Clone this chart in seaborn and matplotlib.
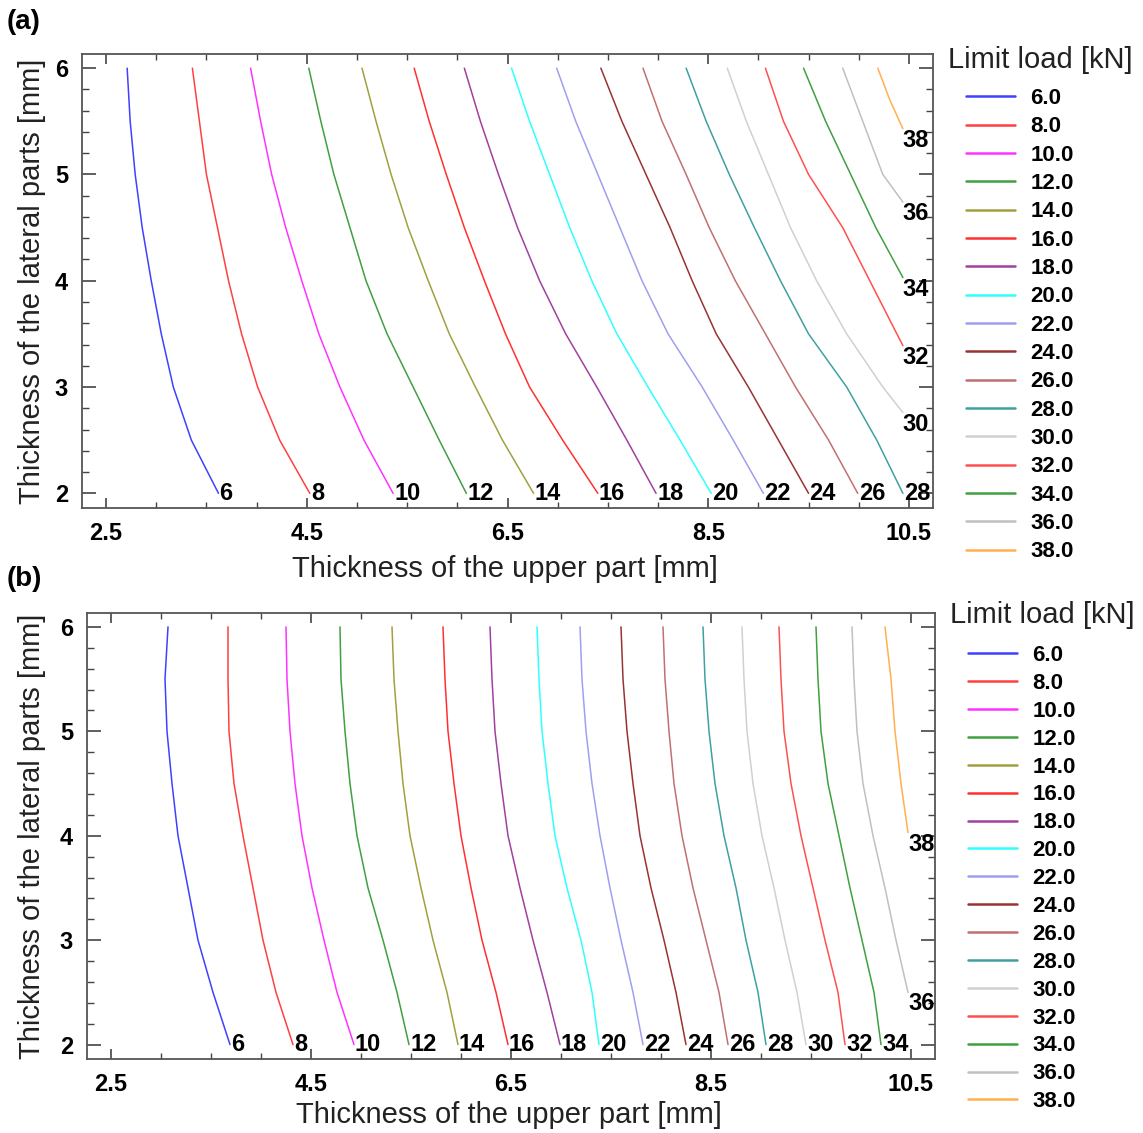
import numpy as np
import pandas as pd
import matplotlib
matplotlib.use("Agg")
import matplotlib.pyplot as plt
import seaborn as sns
from matplotlib.ticker import FixedLocator, MultipleLocator

# ---------------- data ----------------
LEVELS = [6, 8, 10, 12, 14, 16, 18, 20, 22, 24, 26, 28, 30, 32, 34, 36, 38]
LEVEL_LABELS = ["6.0", "8.0", "10.0", "12.0", "14.0", "16.0", "18.0", "20.0", "22.0",
                "24.0", "26.0", "28.0", "30.0", "32.0", "34.0", "36.0", "38.0"]
COLORS = ["#4040ff", "#ff4040", "#ff33ff", "#40a040", "#a0a040", "#ff3030", "#a040a0",
          "#30ffff", "#9f9fef", "#993333", "#c07070", "#40a0a0", "#d0d0d0", "#ff5050",
          "#40a040", "#c0c0c0", "#ffb050"]

X_TICKS = [2.5, 4.5, 6.5, 8.5, 10.5]
X_TICK_LABELS = ["2.5", "4.5", "6.5", "8.5", "10.5"]
Y_TICKS = [2, 3, 4, 5, 6]
Y_TICK_LABELS = ["2", "3", "4", "5", "6"]

# y positions (lateral thickness) at which each contour was read
Y_GRID = [6.0, 5.5, 5.0, 4.5, 4.0, 3.5, 3.0, 2.5, 2.0]

# ---- panel (a): x (upper thickness) of each contour at Y_GRID ----
A06 = [2.71, 2.74, 2.79, 2.86, 2.95, 3.05, 3.17, 3.35, 3.62]
A08 = [3.36, 3.43, 3.50, 3.61, 3.72, 3.85, 4.01, 4.23, 4.53]
A10 = [3.94, 4.04, 4.15, 4.29, 4.45, 4.62, 4.83, 5.07, 5.36]
A12 = [4.52, 4.64, 4.77, 4.93, 5.09, 5.30, 5.56, 5.82, 6.09]
A14 = [5.05, 5.19, 5.34, 5.51, 5.71, 5.92, 6.18, 6.45, 6.76]
A16 = [5.57, 5.72, 5.89, 6.07, 6.27, 6.48, 6.72, 7.05, 7.40]
A18 = [6.07, 6.23, 6.41, 6.60, 6.82, 7.08, 7.39, 7.69, 7.98]
A20 = [6.54, 6.72, 6.92, 7.12, 7.34, 7.59, 7.90, 8.22, 8.53]
A22 = [6.99, 7.18, 7.40, 7.62, 7.84, 8.10, 8.44, 8.75, 9.05]
A24 = [7.43, 7.64, 7.88, 8.12, 8.34, 8.58, 8.90, 9.20, 9.50]
A26 = [7.85, 8.04, 8.28, 8.51, 8.77, 9.07, 9.37, 9.70, 9.99]
A28 = [8.28, 8.48, 8.71, 8.96, 9.22, 9.50, 9.88, 10.18, 10.44]
A30_X = [8.69, 8.88, 9.10, 9.32, 9.58, 9.88, 10.24, 10.44]
A30_Y = [6.0, 5.5, 5.0, 4.5, 4.0, 3.5, 3.0, 2.76]
A32_X = [9.07, 9.25, 9.50, 9.84, 10.11, 10.38, 10.44]
A32_Y = [6.0, 5.5, 5.0, 4.5, 4.0, 3.5, 3.39]
A34_X = [9.45, 9.67, 9.92, 10.17, 10.44]
A34_Y = [6.0, 5.5, 5.0, 4.5, 4.03]
A36_X = [9.84, 10.04, 10.24, 10.44]
A36_Y = [6.0, 5.5, 5.0, 4.74]
A38_X = [10.19, 10.31, 10.44]
A38_Y = [6.0, 5.7, 5.43]

# ---- panel (b) ----
B06 = [3.07, 3.04, 3.06, 3.11, 3.17, 3.27, 3.37, 3.52, 3.69]
B08 = [3.67, 3.67, 3.68, 3.73, 3.82, 3.92, 4.02, 4.15, 4.32]
B10 = [4.25, 4.26, 4.29, 4.34, 4.41, 4.51, 4.63, 4.76, 4.93]
B12 = [4.79, 4.80, 4.84, 4.89, 4.96, 5.07, 5.22, 5.36, 5.48]
B14 = [5.31, 5.33, 5.37, 5.42, 5.49, 5.60, 5.72, 5.86, 5.97]
B16 = [5.82, 5.84, 5.87, 5.93, 6.00, 6.10, 6.21, 6.35, 6.47]
B18 = [6.29, 6.31, 6.34, 6.40, 6.47, 6.59, 6.72, 6.86, 6.99]
B20 = [6.76, 6.78, 6.81, 6.87, 6.94, 7.06, 7.20, 7.31, 7.38]
B22 = [7.19, 7.21, 7.25, 7.31, 7.39, 7.49, 7.60, 7.72, 7.82]
B24 = [7.60, 7.62, 7.66, 7.72, 7.79, 7.90, 8.03, 8.15, 8.25]
B26 = [8.02, 8.04, 8.08, 8.13, 8.21, 8.32, 8.45, 8.58, 8.67]
B28 = [8.42, 8.44, 8.48, 8.54, 8.63, 8.75, 8.85, 8.97, 9.05]
B30 = [8.81, 8.83, 8.86, 8.92, 9.01, 9.13, 9.24, 9.36, 9.45]
B32 = [9.18, 9.20, 9.23, 9.30, 9.40, 9.52, 9.64, 9.77, 9.84]
B34 = [9.55, 9.57, 9.60, 9.67, 9.78, 9.89, 10.01, 10.13, 10.20]
B36_X = [9.91, 9.93, 9.96, 10.02, 10.12, 10.24, 10.35, 10.47]
B36_Y = [6.0, 5.5, 5.0, 4.5, 4.0, 3.5, 3.0, 2.5]
B38_X = [10.24, 10.30, 10.34, 10.40, 10.47]
B38_Y = [6.0, 5.5, 5.0, 4.5, 4.03]

PANEL_A_X = [A06, A08, A10, A12, A14, A16, A18, A20, A22, A24, A26, A28,
             A30_X, A32_X, A34_X, A36_X, A38_X]
PANEL_A_Y = [Y_GRID] * 12 + [A30_Y, A32_Y, A34_Y, A36_Y, A38_Y]
PANEL_B_X = [B06, B08, B10, B12, B14, B16, B18, B20, B22, B24, B26, B28,
             B30, B32, B34, B36_X, B38_X]
PANEL_B_Y = [Y_GRID] * 15 + [B36_Y, B38_Y]

# ---------------- style ----------------
sns.set_theme(style="ticks")
plt.rcParams["font.family"] = ["Liberation Sans", "DejaVu Sans"]
plt.rcParams["text.color"] = "black"
plt.rcParams["axes.labelcolor"] = "#222222"
plt.rcParams["xtick.labelcolor"] = "black"
plt.rcParams["ytick.labelcolor"] = "black"

W, H = 1143, 1133
fig = plt.figure(figsize=(W / 100, H / 100), dpi=100)


def frame(xs_list, ys_list):
    rows = []
    for lab, xs, ys in zip(LEVEL_LABELS, xs_list, ys_list):
        for i, (x, y) in enumerate(zip(xs, ys)):
            rows.append((lab, i, x, y))
    return pd.DataFrame(rows, columns=["level", "order", "x", "y"])


def px_axes(left, top, right, bottom):
    return fig.add_axes([left / W, 1 - bottom / H, (right - left) / W, (bottom - top) / H])


def draw_panel(ax, xs_list, ys_list, xlabel_y, ylabel_x, leg_x, leg_top, leg_space,
               title_xy, tag, tag_y):
    df = frame(xs_list, ys_list)
    sns.lineplot(data=df, x="x", y="y", hue="level", hue_order=LEVEL_LABELS,
                 palette=COLORS, sort=False, estimator=None, linewidth=1.1,
                 ax=ax, legend=True)
    ax.set_xlim(2.26, 10.74)
    ax.set_ylim(1.862, 6.133)
    ax.set_xticks(X_TICKS)
    ax.set_xticklabels(X_TICK_LABELS, fontweight="bold", fontsize=17)
    ax.set_yticks(Y_TICKS)
    ax.set_yticklabels(Y_TICK_LABELS, fontweight="bold", fontsize=17)
    ax.xaxis.set_minor_locator(MultipleLocator(0.5))
    ax.yaxis.set_minor_locator(MultipleLocator(0.2))
    ax.tick_params(which="both", direction="in", top=True, right=True,
                   color="#444444", pad=10)
    ax.tick_params(axis="x", which="major", length=7, width=1.2)
    ax.tick_params(axis="x", which="minor", length=4, width=1.0)
    ax.tick_params(axis="y", which="major", length=10, width=1.2)
    ax.tick_params(axis="y", which="minor", length=5, width=1.0)
    for s in ax.spines.values():
        s.set_color("#555555")
        s.set_linewidth(1.3)
    ax.set_xlabel("Thickness of the upper part [mm]", fontsize=21)
    ax.set_ylabel("Thickness of the lateral parts [mm]", fontsize=21)
    ax.xaxis.set_label_coords(0.497, xlabel_y)
    ax.yaxis.set_label_coords(ylabel_x, 0.5)

    # contour labels at the end of each line
    for lev, xs, ys in zip(LEVELS, xs_list, ys_list):
        xe, ye = xs[-1], ys[-1]
        if abs(ye - 2.0) < 1e-9:
            ax.text(xe + 0.01, 2.0, str(lev), ha="left", va="center",
                    fontsize=17, fontweight="bold", color="black")
        else:
            ax.text(xe, ye, str(lev), ha="left", va="top",
                    fontsize=17, fontweight="bold", color="black", clip_on=False)

    handles, labels = ax.get_legend_handles_labels()
    ax.legend_.remove()
    leg = ax.legend(handles, labels, loc="upper left",
                    bbox_to_anchor=(leg_x / W, 1 - leg_top / H),
                    bbox_transform=fig.transFigure, frameon=False,
                    prop={"weight": "bold", "size": 16},
                    handlelength=2.2, handletextpad=0.7, labelspacing=leg_space,
                    borderpad=0, borderaxespad=0)
    for ln in leg.get_lines():
        ln.set_linewidth(1.8)
    fig.text(title_xy[0] / W, 1 - title_xy[1] / H, "Limit load [kN]",
             ha="left", va="center", fontsize=21, color="#222222")
    fig.text(7 / W, 1 - tag_y / H, tag, ha="left", va="center",
             fontsize=20, fontweight="bold")


ax_a = px_axes(82, 54, 933, 508)
draw_panel(ax_a, PANEL_A_X, PANEL_A_Y, -0.104, -0.042, 966, 88, 0.33,
           (948, 60), "(a)", 22)

ax_b = px_axes(87, 613, 935, 1059)
draw_panel(ax_b, PANEL_B_X, PANEL_B_Y, -0.095, -0.048, 968, 645, 0.31,
           (950, 615), "(b)", 579)

fig.savefig("out.png", dpi=100)
